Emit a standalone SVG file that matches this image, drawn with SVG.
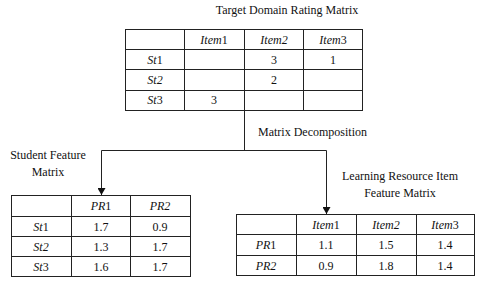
<svg xmlns="http://www.w3.org/2000/svg" width="480" height="283" viewBox="0 0 480 283">
<defs>
<style>
text{font-family:"Liberation Serif","Times New Roman","DejaVu Serif",serif;font-size:12px;fill:#111;}
.c{text-anchor:middle;}
.i{font-style:italic;}
.grid{stroke:#222;stroke-width:1;fill:none;}
.con{stroke:#222;stroke-width:1;fill:none;}
</style>
<marker id="ah" markerWidth="8" markerHeight="8" refX="7" refY="4" orient="auto" markerUnits="userSpaceOnUse" viewBox="0 0 8 8">
<path d="M0,0 L7,4 L0,8 Z" fill="#111"/>
</marker>
</defs>
<rect width="480" height="283" fill="#fff"/>

<g id="target-matrix">
<text x="287" y="14" class="c">Target Domain Rating Matrix</text>
<rect class="grid" x="125.5" y="29.5" width="237" height="81"/>
<path class="grid" d="M125.5,49.5H362.5M125.5,69.5H362.5M125.5,90.5H362.5M184.5,29.5V110.5M244.5,29.5V110.5M303.5,29.5V110.5"/>
<text x="214" y="43.5" class="c"><tspan class="i">Item</tspan>1</text>
<text x="274" y="43.5" class="c"><tspan class="i">Item2</tspan></text>
<text x="333" y="43.5" class="c"><tspan class="i">Item</tspan>3</text>
<text x="155" y="63.5" class="c"><tspan class="i">St</tspan>1</text>
<text x="155" y="83.5" class="c"><tspan class="i">St2</tspan></text>
<text x="155" y="104" class="c"><tspan class="i">St</tspan>3</text>
<text x="274" y="63.5" class="c">3</text>
<text x="333" y="63.5" class="c">1</text>
<text x="274" y="83.5" class="c">2</text>
<text x="214" y="104" class="c">3</text>
</g>

<g id="decomposition-label">
<text x="258" y="136">Matrix Decomposition</text>
</g>

<g id="student-matrix">
<text x="48" y="159" class="c">Student Feature</text>
<text x="48" y="175.5" class="c">Matrix</text>
<rect class="grid" x="11.5" y="195.5" width="179" height="81"/>
<path class="grid" d="M11.5,216.5H190.5M11.5,236.5H190.5M11.5,256.5H190.5M71.5,195.5V276.5M130.5,195.5V276.5"/>
<text x="101" y="210" class="c"><tspan class="i">PR</tspan>1</text>
<text x="160" y="210" class="c"><tspan class="i">PR2</tspan></text>
<text x="41" y="230.5" class="c"><tspan class="i">St</tspan>1</text>
<text x="41" y="250.5" class="c"><tspan class="i">St2</tspan></text>
<text x="41" y="270.5" class="c"><tspan class="i">St</tspan>3</text>
<text x="101" y="230.5" class="c">1.7</text>
<text x="160" y="230.5" class="c">0.9</text>
<text x="101" y="250.5" class="c">1.3</text>
<text x="160" y="250.5" class="c">1.7</text>
<text x="101" y="270.5" class="c">1.6</text>
<text x="160" y="270.5" class="c">1.7</text>
</g>

<g id="item-matrix">
<text x="400" y="180" class="c">Learning Resource Item</text>
<text x="400" y="196.5" class="c">Feature Matrix</text>
<rect class="grid" x="236.5" y="214.5" width="238" height="61"/>
<path class="grid" d="M236.5,234.5H474.5M236.5,255.5H474.5M296.5,214.5V275.5M356.5,214.5V275.5M416.5,214.5V275.5"/>
<text x="326" y="228.5" class="c"><tspan class="i">Item</tspan>1</text>
<text x="386" y="228.5" class="c"><tspan class="i">Item2</tspan></text>
<text x="445" y="228.5" class="c"><tspan class="i">Item</tspan>3</text>
<text x="266" y="249" class="c"><tspan class="i">PR</tspan>1</text>
<text x="266" y="269.5" class="c"><tspan class="i">PR2</tspan></text>
<text x="326" y="249" class="c">1.1</text>
<text x="386" y="249" class="c">1.5</text>
<text x="445" y="249" class="c">1.4</text>
<text x="326" y="269.5" class="c">0.9</text>
<text x="386" y="269.5" class="c">1.8</text>
<text x="445" y="269.5" class="c">1.4</text>
</g>

<g id="connectors">
<path class="con" d="M244.5,110.5V150.5"/>
<path class="con" d="M101.5,150.5H326.5"/>
<path class="con" d="M101.5,150.5V195" marker-end="url(#ah)"/>
<path class="con" d="M326.5,150.5V214" marker-end="url(#ah)"/>
</g>
</svg>
